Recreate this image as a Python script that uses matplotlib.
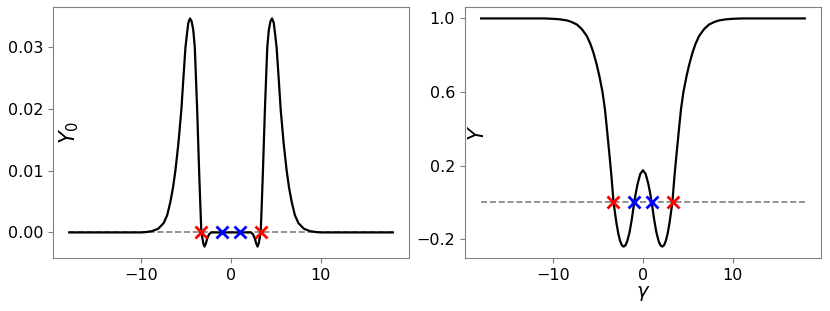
import numpy as np
import matplotlib.pyplot as plt

# curva Y0 (panel izquierdo)
g0 = [-18, -10, -9.5, -8.8, -8.1, -7.5, -7.1, -6.74, -6.45, -6.19, -5.85, -5.52, -5.3,
      -5.07, -4.9, -4.75, -4.56, -4.38, -4.2, -4.03, -3.9, -3.77, -3.66, -3.55, -3.43,
      -3.3, -3.2, -3.08, -2.95, -2.8, -2.65, -2.45, -2.2, 0,
      2.2, 2.45, 2.65, 2.8, 2.95, 3.08, 3.2, 3.3, 3.43, 3.55, 3.66, 3.77, 3.9, 4.03,
      4.2, 4.38, 4.56, 4.75, 4.9, 5.07, 5.3, 5.52, 5.85, 6.19, 6.45, 6.74, 7.1, 7.5,
      8.1, 8.8, 9.5, 10, 18]
Y0 = [0, 0, 0.00005, 0.0002, 0.0006, 0.0015, 0.0028, 0.005, 0.0073, 0.01, 0.0145,
      0.02, 0.025, 0.03, 0.0322, 0.034, 0.0347, 0.0342, 0.0328, 0.03, 0.025, 0.02,
      0.015, 0.01, 0.005, 0.0, -0.0008, -0.0018, -0.0023, -0.0018, -0.001, -0.0003,
      0, 0,
      0, -0.0003, -0.001, -0.0018, -0.0023, -0.0018, -0.0008, 0.0, 0.005, 0.01, 0.015,
      0.02, 0.025, 0.03, 0.0328, 0.0342, 0.0347, 0.034, 0.0322, 0.03, 0.025, 0.02,
      0.0145, 0.01, 0.0073, 0.005, 0.0028, 0.0015, 0.0006, 0.0002, 0.00005, 0, 0]

# curva Y (panel derecho)
g1 = [-18, -11, -10, -9.2, -8.45, -8.0, -7.35, -6.8, -6.24, -5.85, -5.51, -5.15, -4.85,
      -4.5, -4.23, -4.05, -3.86, -3.7, -3.5, -3.27, -3.1, -2.95, -2.75, -2.55, -2.35,
      -2.15, -1.95, -1.75, -1.5, -1.25, -0.97, -0.8, -0.6, -0.3, 0,
      0.3, 0.6, 0.8, 0.97, 1.25, 1.5, 1.75, 1.95, 2.15, 2.35, 2.55, 2.75, 2.95, 3.1,
      3.27, 3.5, 3.7, 3.86, 4.05, 4.23, 4.5, 4.85, 5.15, 5.51, 5.85, 6.24, 6.8, 7.35,
      8.0, 8.45, 9.2, 10, 11, 18]
Y = [1.0, 1.0, 0.998, 0.995, 0.989, 0.982, 0.967, 0.942, 0.904, 0.862, 0.814, 0.75,
     0.687, 0.6, 0.506, 0.42, 0.325, 0.245, 0.14, 0.0, -0.06, -0.112, -0.168, -0.208,
     -0.232, -0.24, -0.233, -0.211, -0.164, -0.094, 0.0, 0.05, 0.1, 0.155, 0.175,
     0.155, 0.1, 0.05, 0.0, -0.094, -0.164, -0.211, -0.233, -0.24, -0.232, -0.208,
     -0.168, -0.112, -0.06, 0.0, 0.14, 0.245, 0.325, 0.42, 0.506, 0.6, 0.687, 0.75,
     0.814, 0.862, 0.904, 0.942, 0.967, 0.982, 0.989, 0.995, 0.998, 1.0, 1.0]

# raices marcadas
rojo = [-3.3, 3.3]
azul = [-0.97, 0.97]

fig = plt.figure(figsize=(8.3, 3.11), dpi=100)
ax1 = fig.add_axes([0.0639, 0.1704, 0.4289, 0.807])
ax2 = fig.add_axes([0.5602, 0.1704, 0.4289, 0.807])

for ax, g, v in [(ax1, g0, Y0), (ax2, g1, Y)]:
    ax.plot([-18, 18], [0, 0], '--', c='gray', lw=1.2)
    ax.plot(g, v, c='k', lw=1.6)
    ax.plot(rojo, [0, 0], 'x', c='r', ms=8, mew=2)
    ax.plot(azul, [0, 0], 'x', c='b', ms=8, mew=2)
    for s in ax.spines.values():
        s.set_color('gray')
    ax.tick_params(colors='gray', labelcolor='k', labelsize=11.5)
    ax.set_xticks([-10, 0, 10])

ax1.set_yticks([0, 0.01, 0.02, 0.03])
ax1.set_ylabel(r'$Y_0$', fontsize=15)
ax1.yaxis.set_label_coords(0.078, 0.5)

ax2.set_yticks([-0.2, 0.2, 0.6, 1.0])
ax2.set_ylabel(r'$Y$', fontsize=15)
ax2.yaxis.set_label_coords(0.064, 0.5)
ax2.set_xlabel(r'$\gamma$', fontsize=14, labelpad=1)

plt.savefig('out.png')
